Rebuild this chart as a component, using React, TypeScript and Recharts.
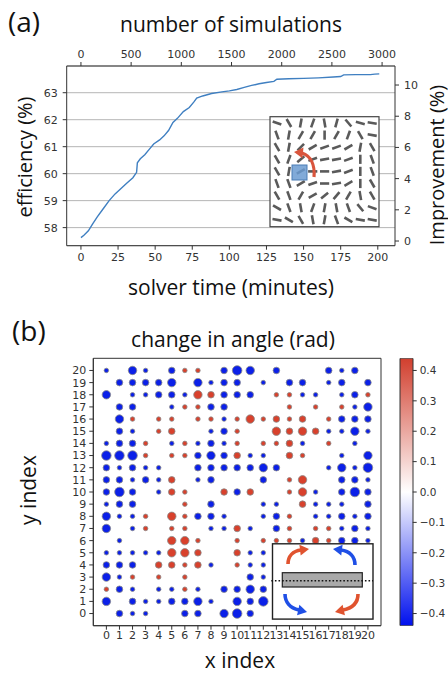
import React from 'react';
import {
  LineChart, Line, XAxis, YAxis, CartesianGrid,
  ScatterChart, Scatter, ZAxis, ReferenceArea,
  BarChart, Bar,
} from 'recharts';

// ---------- panel (a) data ----------
const solverTimeMin = [0, 2, 5, 8, 11, 15, 19, 23, 27, 31, 35, 37.5, 38, 40, 43, 46, 49, 53, 56, 59, 62, 65, 69, 73, 76, 78, 82, 88, 95, 100, 105, 110, 115, 120, 125, 130, 132, 140, 150, 160, 170, 175, 177, 185, 195, 198, 201];
const efficiencyPct = [57.63, 57.72, 57.88, 58.15, 58.4, 58.7, 59.0, 59.25, 59.45, 59.65, 59.85, 60.05, 60.4, 60.55, 60.7, 60.9, 61.1, 61.25, 61.4, 61.6, 61.9, 62.05, 62.3, 62.45, 62.65, 62.8, 62.88, 62.97, 63.03, 63.07, 63.12, 63.2, 63.27, 63.33, 63.38, 63.42, 63.5, 63.52, 63.53, 63.55, 63.58, 63.6, 63.66, 63.67, 63.67, 63.69, 63.7];
const timeTicks = [0, 25, 50, 75, 100, 125, 150, 175, 200];
const simTicks = [0, 500, 1000, 1500, 2000, 2500, 3000];
const minutesAt3000Sims = 202.9;
const effTicks = [58, 59, 60, 61, 62, 63];
const improvementTicks = [0, 2, 4, 6, 8, 10];

// ---------- panel (b) data ----------
const S = 0.08, M = 0.17, L = 0.28, X = 0.36;
const indexTicks = [0, 1, 2, 3, 4, 5, 6, 7, 8, 9, 10, 11, 12, 13, 14, 15, 16, 17, 18, 19, 20];
const yRowIndex = [20, 19, 18, 17, 16, 15, 14, 13, 12, 11, 10, 9, 8, 7, 6, 5, 4, 3, 2, 1, 0];
// change in angle (rad), one row per y index (20 -> 0), columns x = 0..20
const angleChange: number[][] = [
  [-S, 0, -L, -S, 0, -M, S, S, 0, -M, -X, -L, 0, -M, 0, 0, 0, -M, -S, -M, 0],
  [0, -M, -M, -M, -M, -L, 0, -L, -S, -M, -M, 0, -S, 0, -M, -M, 0, -S, -M, 0, -M],
  [-L, 0, -S, -S, -M, -M, -S, L, M, -M, -M, -M, 0, S, S, -S, -S, 0, -S, -M, S],
  [0, -M, -M, 0, 0, -S, S, S, -M, -M, 0, 0, 0, 0, S, 0, S, 0, S, -S, -L],
  [0, -L, S, 0, S, S, 0, S, S, -S, S, L, S, M, S, M, 0, S, -M, -M, -M],
  [0, -M, -S, 0, S, M, 0, 0, -S, -M, S, 0, 0, L, M, L, M, -S, -S, -L, -S],
  [-S, -M, -M, S, 0, -S, S, -S, -M, -S, S, 0, S, S, M, -S, 0, S, 0, -S, 0],
  [-X, -X, -X, S, 0, S, S, -M, -L, -M, M, -S, -S, 0, M, S, 0, 0, -S, 0, -L],
  [-M, -S, -M, -S, -S, 0, 0, -M, -M, -M, -M, -M, -L, -M, 0, 0, 0, -S, -L, -S, -X],
  [-M, -M, -S, -M, -S, M, 0, -S, -M, 0, 0, 0, -M, 0, S, L, 0, 0, -M, -M, -S],
  [-M, -X, -M, 0, -S, M, S, 0, 0, M, -M, M, 0, 0, S, L, -S, 0, -M, -X, -M],
  [-S, -M, -M, 0, 0, 0, S, 0, -M, 0, 0, 0, -S, -S, 0, M, -S, -S, -S, 0, -M],
  [-L, -S, -S, S, 0, L, S, -M, -M, -S, 0, 0, -S, -M, S, 0, -S, -S, -M, -S, -M],
  [-L, 0, -S, S, 0, S, S, 0, -S, -S, M, -S, 0, -M, S, 0, S, S, -S, -M, -S],
  [0, -S, 0, 0, 0, L, L, S, 0, 0, S, 0, S, S, S, -S, M, S, -M, -M, -S],
  [-S, -S, -S, -S, -S, L, L, M, 0, 0, M, -S, -S, 0, 0, 0, 0, 0, 0, 0, 0],
  [-M, -M, -M, 0, M, M, S, M, -S, 0, S, -S, -S, 0, 0, 0, 0, 0, 0, 0, 0],
  [-L, -S, S, 0, S, 0, S, 0, 0, 0, 0, -M, -S, 0, 0, 0, 0, 0, 0, 0, 0],
  [S, -M, -S, 0, -S, -S, S, -S, 0, -M, -M, -L, -M, 0, 0, 0, 0, 0, 0, 0, 0],
  [-L, 0, -M, -S, -S, -M, -M, -L, -S, 0, -L, -M, -X, 0, 0, 0, 0, 0, 0, 0, 0],
  [0, -M, -S, -S, 0, 0, -M, -M, 0, -L, -X, -M, 0, 0, 0, 0, 0, 0, 0, 0, 0],
];
const colorbarTicks = [-0.4, -0.3, -0.2, -0.1, 0, 0.1, 0.2, 0.3, 0.4];
const colorbarRange = [{ name: 'cb', range: [-0.44, 0.44] }];

// inset (a): rod orientations (degrees), 9 x 9
const rodAngles: number[][] = [
  [-20, -60, 80, 70, -80, 75, -50, -15, -10],
  [-70, 80, 60, 60, 90, 60, 70, -60, -10],
  [-60, 80, 45, 30, 20, 20, 30, 80, -60],
  [-60, 70, 40, 20, 10, 10, 20, 90, -70],
  [-60, 80, 30, 0, 0, 10, 20, 90, -70],
  [-70, -70, 30, 20, 0, 10, 30, 90, -60],
  [-60, -70, 60, 30, 40, 50, 60, -80, -60],
  [-30, -70, -80, 70, 80, -80, -70, -50, -20],
  [-10, -30, -60, -80, 80, -70, -30, -10, -10],
];

const tickFont = { fontFamily: 'DejaVu Sans, sans-serif', fontSize: 11, fill: '#333' };
const titleFont = '"Open Sans", Lato, sans-serif';
const RED = '#d8412c';
const BLUE = '#0b20e8';

function fmtCb(v: number) {
  const s = Math.abs(v).toFixed(1);
  return v < 0 ? '\u2212' + s : s;
}

function Arrow({ d, tip, dir, color, w = 3.6, head = 9 }: { d: string; tip: [number, number]; dir: number; color: string; w?: number; head?: number }) {
  const ux = Math.cos(dir), uy = Math.sin(dir);
  const px = -uy, py = ux;
  const bx = tip[0] - ux * head, by = tip[1] - uy * head;
  const hw = head * 0.6;
  const pts = `${tip[0]},${tip[1]} ${bx + px * hw},${by + py * hw} ${bx - px * hw},${by - py * hw}`;
  return (
    <g>
      <path d={d} fill="none" stroke={color} strokeWidth={w} />
      <polygon points={pts} fill={color} />
    </g>
  );
}

export default function App() {
  const lineData = solverTimeMin.map((t, i) => ({ t, eff: efficiencyPct[i] }));
  const simTickMinutes = simTicks.map((s) => (s / 3000) * minutesAt3000Sims);
  const pos: { x: number; y: number; mag: number }[] = [];
  const neg: { x: number; y: number; mag: number }[] = [];
  angleChange.forEach((row, r) => {
    row.forEach((v, c) => {
      if (v > 0) pos.push({ x: indexTicks[c], y: yRowIndex[r], mag: v });
      else if (v < 0) neg.push({ x: indexTicks[c], y: yRowIndex[r], mag: -v });
    });
  });

  const rods: React.ReactNode[] = [];
  rodAngles.forEach((row, r) => {
    row.forEach((a, c) => {
      const cx = 277 + c * 11.9, cy = 123 + r * 12.1;
      const rad = (a * Math.PI) / 180;
      const dx = Math.cos(rad) * 4.6, dy = -Math.sin(rad) * 4.6;
      rods.push(<line key={`${r}-${c}`} x1={cx - dx} y1={cy - dy} x2={cx + dx} y2={cy + dy} stroke="#5a5a5a" strokeWidth={2.6} />);
    });
  });

  return (
    <div style={{ position: 'absolute', left: 0, top: 0, width: 448, height: 674, background: '#fff', overflow: 'hidden' }}>
      <div style={{ position: 'absolute', left: 0, top: 0 }}>
        <LineChart width={448} height={310} data={lineData} margin={{ top: 36, right: 29, bottom: 34.3, left: 36.7 }}>
          <CartesianGrid vertical={false} stroke="#b5b5b5" strokeWidth={1} />
          <XAxis dataKey="t" type="number" domain={[-9.6, 211.6]} ticks={timeTicks} allowDataOverflow interval={0}
            height={30} tick={tickFont} tickSize={4} tickMargin={3} stroke="#333" />
          <XAxis xAxisId="sims" dataKey="t" orientation="top" type="number" domain={[-9.6, 211.6]} ticks={simTickMinutes} allowDataOverflow interval={0}
            height={30} tick={tickFont} tickSize={4} tickMargin={4} stroke="#333"
            tickFormatter={(v: number) => String(Math.round((v / minutesAt3000Sims) * 3000))} />
          <YAxis type="number" domain={[57.33, 63.99]} ticks={effTicks} allowDataOverflow interval={0}
            width={30} tick={tickFont} tickSize={4} tickMargin={5} stroke="#333" />
          <YAxis yAxisId="imp" orientation="right" type="number" domain={[-0.3, 11.22]} ticks={improvementTicks} allowDataOverflow interval={0}
            width={24} tick={tickFont} tickSize={4} tickMargin={5} stroke="#333" />
          <Line xAxisId="sims" dataKey="eff" type="linear" stroke="none" dot={false} activeDot={false} isAnimationActive={false} />
          <Line dataKey="eff" type="linear" stroke="#3f7fc1" strokeWidth={1.4} dot={false} isAnimationActive={false} />
        </LineChart>
      </div>

      <div style={{ position: 'absolute', left: 0, top: 300 }}>
        <ScatterChart width={448} height={374} margin={{ top: 58.3, right: 67, bottom: 28.3, left: 65.3 }}>
          <XAxis dataKey="x" type="number" domain={[-1, 21]} ticks={indexTicks} allowDataOverflow interval={0}
            height={20} tick={tickFont} tickSize={4} tickMargin={1} stroke="#333" />
          <YAxis dataKey="y" type="number" domain={[-1, 21]} ticks={indexTicks} allowDataOverflow interval={0}
            width={28} tick={tickFont} tickSize={4} tickMargin={3} stroke="#333" />
          <ZAxis dataKey="mag" type="number" domain={[0, 0.4]} range={[0, 80]} />
          <ReferenceArea x1={-1} x2={21} y1={-1} y2={21} fill="none" stroke="#333" strokeWidth={1} ifOverflow="visible" />
          <Scatter data={neg} fill={BLUE} stroke="#8a8a8a" strokeWidth={0.8} isAnimationActive={false} />
          <Scatter data={pos} fill={RED} stroke="#8a8a8a" strokeWidth={0.8} isAnimationActive={false} />
        </ScatterChart>
      </div>

      <div style={{ position: 'absolute', left: 380, top: 340 }}>
        <BarChart width={68} height={300} data={colorbarRange} margin={{ top: 18.3, right: 0.3, bottom: 14.3, left: 20 }} barCategoryGap={0}>
          <defs>
            <linearGradient id="cbGrad" x1="0" y1="0" x2="0" y2="1">
              <stop offset="0%" stopColor="#d13f2e" />
              <stop offset="50%" stopColor="#ffffff" />
              <stop offset="100%" stopColor="#0010ee" />
            </linearGradient>
          </defs>
          <XAxis dataKey="name" hide />
          <YAxis orientation="right" type="number" domain={[-0.44, 0.44]} ticks={colorbarTicks} allowDataOverflow interval={0}
            width={35} axisLine={false} tick={{ ...tickFont, fontSize: 10.5 }} tickSize={4} tickMargin={3} stroke="#333" tickFormatter={fmtCb} />
          <Bar dataKey="range" fill="url(#cbGrad)" stroke="#333" strokeWidth={1} isAnimationActive={false} />
        </BarChart>
      </div>

      <svg width={448} height={674} style={{ position: 'absolute', left: 0, top: 0, pointerEvents: 'none' }}>
        {/* panel labels and titles */}
        <text x={8} y={21} fontFamily={titleFont} fontSize={28} fill="#111" dominantBaseline="central">(a)</text>
        <text x={231} y={24} fontFamily={titleFont} fontSize={21} fill="#111" textAnchor="middle" dominantBaseline="central">number of simulations</text>
        <text transform="translate(24,157) rotate(-90)" fontFamily={titleFont} fontSize={20} fill="#111" textAnchor="middle" dominantBaseline="central">efficiency (%)</text>
        <text transform="translate(436,165) rotate(-90)" fontFamily={titleFont} fontSize={20} fill="#111" textAnchor="middle" dominantBaseline="central">Improvement (%)</text>
        <text x={231} y={287} fontFamily={titleFont} fontSize={21} fill="#111" textAnchor="middle" dominantBaseline="central">solver time (minutes)</text>
        <text x={12} y={330} fontFamily={titleFont} fontSize={28} fill="#111" dominantBaseline="central">(b)</text>
        <text x={233} y={339} fontFamily={titleFont} fontSize={21} fill="#111" textAnchor="middle" dominantBaseline="central">change in angle (rad)</text>
        <text transform="translate(28,490) rotate(-90)" fontFamily={titleFont} fontSize={21} fill="#111" textAnchor="middle" dominantBaseline="central">y index</text>
        <text x={240} y={660} fontFamily={titleFont} fontSize={21} fill="#111" textAnchor="middle" dominantBaseline="central">x index</text>

        {/* inset (a) */}
        <rect x={270} y={116.7} width={109} height={110} fill="#fff" stroke="#444" strokeWidth={1.2} />
        {rods}
        <rect x={292} y={165} width={15} height={15} fill="#6b9bd1" fillOpacity={0.85} stroke="#4a7db5" strokeWidth={1} />
        <Arrow d="M 314 177 C 315 165, 311 156, 302 153" tip={[294, 152]} dir={Math.PI + 0.1} color="#d9553d" w={3.2} head={9} />

        {/* inset (b) */}
        <rect x={272.5} y={543.8} width={100.5} height={75.3} fill="#fff" stroke="#222" strokeWidth={1.4} />
        <rect x={282.3} y={572.7} width={80} height={14.3} fill="#a9a9a9" stroke="#222" strokeWidth={1.2} />
        <line x1={271.3} y1={580.7} x2={373} y2={580.7} stroke="#111" strokeWidth={1.6} strokeDasharray="1.6 2" />
        <Arrow d="M 288 564 C 288 556, 293 551, 301 550" tip={[309, 549]} dir={-0.12} color="#e0532f" />
        <Arrow d="M 355 565 C 355 557, 350 551, 341 550" tip={[333, 549]} dir={Math.PI + 0.12} color="#1f4fe6" />
        <Arrow d="M 285 594 C 285 602, 290 608, 299 610" tip={[307, 612]} dir={0.22} color="#1f4fe6" />
        <Arrow d="M 358 594 C 358 602, 353 608, 343 610" tip={[335, 612]} dir={Math.PI - 0.22} color="#e0532f" />
      </svg>
    </div>
  );
}
